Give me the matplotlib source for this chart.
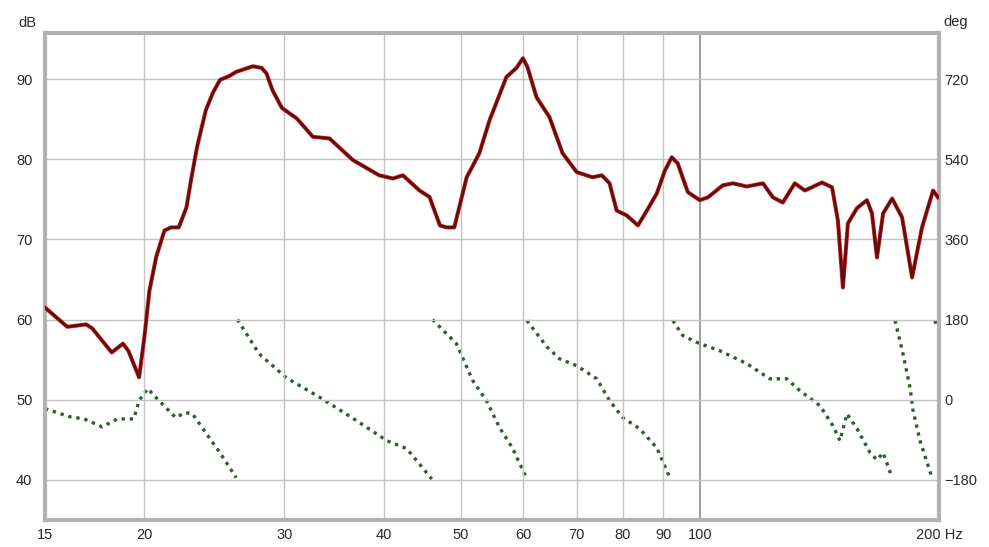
import numpy as np
import matplotlib
matplotlib.use('Agg')
import matplotlib.pyplot as plt
from matplotlib.ticker import FixedLocator, FixedFormatter, NullLocator

# ---- data ----
# magnitude (dB) vs frequency (Hz)
magFreq = [15.0, 16.0, 16.9, 17.2, 18.2, 18.8, 19.1, 19.7, 20.0, 20.3,
           20.7, 21.2, 21.6, 22.1, 22.6, 22.9, 23.3, 23.9, 24.4, 24.9, 25.6, 26.1,
           27.4, 28.1, 28.5, 29.0, 29.8, 31.1, 32.6, 34.2, 36.6, 39.5, 41.1,
           42.3, 44.4, 45.7, 47.1, 48.0, 49.1, 50.9, 52.8, 54.4, 57.1,
           58.8, 59.9, 60.7, 62.3, 64.7, 67.2, 70.0, 73.3, 75.3, 77.0,
           78.6, 80.9, 83.6, 85.8, 88.3, 90.4, 92.2, 93.8, 96.6, 100.0,
           102.4, 106.9, 110.1, 114.6, 120.1, 123.6, 127.2, 131.7, 135.6, 142.5,
           146.7, 149.2, 151.4, 153.6, 157.7, 162.3, 164.7, 167.1, 170.1, 174.6,
           179.7, 185.0, 190.4, 196.6, 199.4]
magDB = [61.5, 59.1, 59.4, 58.9, 55.9, 57.0, 56.1, 52.8, 57.7, 63.6,
         67.8, 71.1, 71.5, 71.5, 74.0, 77.4, 81.5, 86.1, 88.3, 89.9, 90.4, 90.9,
         91.6, 91.4, 90.7, 88.6, 86.4, 85.1, 82.8, 82.6, 79.9, 78.0, 77.6,
         78.0, 76.1, 75.3, 71.75, 71.5, 71.5, 77.75, 80.75, 84.9, 90.25,
         91.4, 92.6, 91.5, 87.75, 85.25, 80.75, 78.4, 77.75, 78.0, 77.0,
         73.6, 73.0, 71.75, 73.6, 75.75, 78.6, 80.25, 79.5, 75.9, 74.9,
         75.25, 76.75, 77.0, 76.6, 77.0, 75.25, 74.6, 77.0, 76.1, 77.1,
         76.5, 72.4, 64.0, 72.0, 73.9, 74.9, 73.25, 67.75, 73.25, 75.1,
         72.75, 65.25, 71.5, 76.1, 75.25]

# phase (deg, wrapped to +-180) vs frequency (Hz)
phFreq = [15.0, 16.1, 16.8, 17.7, 18.5, 19.4, 19.7, 20.2, 20.7, 21.9, 22.5, 23.0, 23.7, 24.9, 26.1,
          26.2, 27.9, 30.2, 33.5, 37.0, 40.4, 42.8, 46.0,
          46.1, 49.4, 51.8, 53.9, 56.0, 58.1, 60.6,
          60.6, 64.2, 66.6, 70.0, 74.2, 77.0, 80.0, 84.0, 88.3, 91.7,
          92.5, 95.2, 99.4, 106.0, 114.6, 122.5, 128.7, 133.7, 141.7, 147.1, 150.1, 153.2,
          157.7, 163.8, 167.1, 170.1, 174.6,
          176.1, 180.2, 183.9, 185.5, 189.3, 196.0,
          197.7, 198.8]
phDeg = [-20, -38, -43, -61, -43, -43, -2, 25, 4.5, -40, -29, -31.5, -65, -119, -175,
         180, 103, 49, 2, -47, -92, -110, -178,
         180, 126, 43, -2, -63, -108, -178,
         178, 119, 92, 76.5, 47, -2, -40, -65, -108, -175,
         178, 144, 128, 110, 81, 47, 47, 20, -13.5, -58.5, -92, -31.5,
         -65, -119, -135, -119, -175,
         178, 103, 27, -24, -92, -175,
         178, 160]

xTicks = [15, 20, 30, 40, 50, 60, 70, 80, 90, 100, 200]
xTickLabels = ['15', '20', '30', '40', '50', '60', '70', '80', '90', '100', '200 Hz']
dbTicks = [40, 50, 60, 70, 80, 90]
degTicks = [-180, 0, 180, 360, 540, 720]

# ---- figure ----
plt.rcParams['font.family'] = ['Liberation Sans', 'DejaVu Sans']
fig = plt.figure(figsize=(9.89, 5.47), dpi=100)
ax = fig.add_axes([45/989, 27/547, 894/989, 487/547])
ax.set_xscale('log')
ax.set_xlim(15, 200)
ax.set_ylim(35, 95.75)

frameCol = '#b2b2b2'
for s in ax.spines.values():
    s.set_color(frameCol)
    s.set_linewidth(3)

# grid
for f in [20, 30, 40, 50, 60, 70, 80, 90]:
    ax.axvline(f, color='#c4c4c4', lw=1, zorder=0)
ax.axvline(100, color='#8c8c8c', lw=1.2, zorder=0)
for d in dbTicks:
    ax.axhline(d, color='#c4c4c4', lw=1, zorder=0)

ax.xaxis.set_major_locator(FixedLocator(xTicks))
ax.xaxis.set_major_formatter(FixedFormatter(xTickLabels))
ax.xaxis.set_minor_locator(NullLocator())
ax.set_yticks(dbTicks)
ax.tick_params(axis='both', length=0, labelsize=10.5, colors='#2a2a2a')
ax.tick_params(axis='y', pad=9)
ax.tick_params(axis='x', pad=6)

# phase on a twin axis
ax2 = ax.twinx()
ax2.set_ylim((35 - 50) * 18, (95.75 - 50) * 18)
ax2.set_yticks(degTicks)
ax2.tick_params(axis='y', length=0, labelsize=10.5, colors='#2a2a2a', pad=4)
for s in ax2.spines.values():
    s.set_visible(False)

# break the phase line where it wraps
pf = np.array(phFreq, dtype=float)
pd_ = np.array(phDeg, dtype=float)
jumps = np.where(np.abs(np.diff(pd_)) > 180)[0]
pf = np.insert(pf, jumps + 1, np.nan)
pd_ = np.insert(pd_, jumps + 1, np.nan)
ax2.plot(pf, pd_, color='#2c5f2c', lw=2.4, linestyle=(0, (1, 1.45)),
         dash_capstyle='butt', zorder=3)

# magnitude on top
ax.set_zorder(ax2.get_zorder() + 1)
ax.patch.set_visible(False)
ax.plot(magFreq, magDB, color='#d42020', lw=2.9, solid_joinstyle='round', zorder=4)
ax.plot(magFreq, magDB, color='#5e0f0f', lw=1.9, solid_joinstyle='round', zorder=5)

fig.text(18/989, 1 - 23/547, 'dB', fontsize=10.5, color='#2a2a2a', va='center', ha='left')
fig.text(943/989, 1 - 22/547, 'deg', fontsize=10.5, color='#2a2a2a', va='center', ha='left')

fig.savefig('out.png', dpi=100)
